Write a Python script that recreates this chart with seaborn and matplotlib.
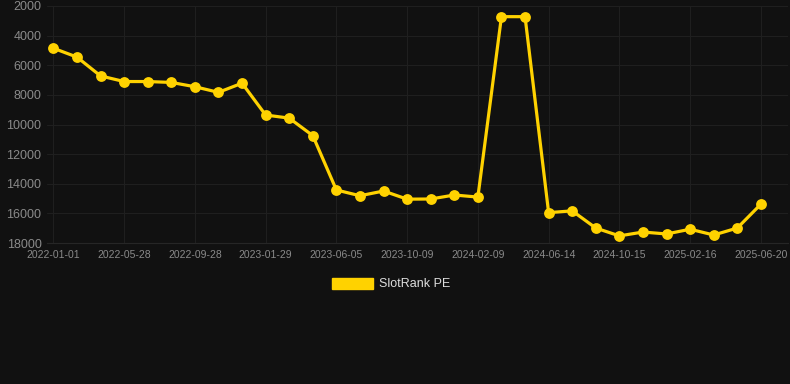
import pandas as pd
import numpy as np
import matplotlib
matplotlib.use("Agg")
import matplotlib.pyplot as plt
import matplotlib.patches as mpatches
import seaborn as sns

sns.set_style("dark", {"axes.facecolor": "#111111", "figure.facecolor": "#111111"})
plt.rcParams['font.family'] = ['Liberation Sans', 'DejaVu Sans']

# tick labels (every third observation)
tick_labels = ["2022-01-01", "2022-05-28", "2022-09-28", "2023-01-29", "2023-06-05",
               "2023-10-09", "2024-02-09", "2024-06-14", "2024-10-15", "2025-02-16",
               "2025-06-20"]

# rank values
ranks = [4850, 5450, 6720, 7100, 7100, 7160, 7450, 7830, 7210, 9360,
         9570, 10750, 14420, 14810, 14490, 15040, 15030, 14760, 14900, 2720,
         2720, 15950, 15830, 16990, 17520, 17260, 17390, 17070, 17460, 16990,
         15380]

df = pd.DataFrame({"idx": np.arange(len(ranks)), "rank": ranks})

line_color = "#FFD200"
grid_color = "#1f1f1f"
text_color = "#8a8a8a"

fig = plt.figure(figsize=(7.9, 3.84), dpi=100)
ax = fig.add_axes([47 / 790, 1 - 243 / 384, 741 / 790, 237 / 384])

sns.lineplot(data=df, x="idx", y="rank", ax=ax, color=line_color, linewidth=2.3,
             marker="o", markersize=7.8, markeredgecolor=line_color, markeredgewidth=0)

ax.set_ylim(18000, 2000)
ax.set_yticks(range(2000, 18001, 2000))
ax.set_xlim(-0.27, len(ranks) - 1 + 1.15)
ax.set_xticks(df["idx"][::3])
ax.set_xticklabels(tick_labels)

ax.grid(True, color=grid_color, linewidth=0.8)
ax.set_axisbelow(True)
for s in ["top", "right", "left"]:
    ax.spines[s].set_visible(False)
ax.spines["bottom"].set_color("#262626")

ax.tick_params(axis="y", labelsize=9, colors=text_color, length=0, pad=4)
ax.tick_params(axis="x", labelsize=7.5, colors=text_color, length=0, pad=5)
ax.set_xlabel("")
ax.set_ylabel("")

handle = mpatches.Patch(color=line_color, label="SlotRank PE")
fig.legend(handles=[handle], loc="center", bbox_to_anchor=(391 / 790, 1 - 284 / 384),
           frameon=False, fontsize=9, labelcolor="#dddddd",
           handlelength=3.3, handleheight=1.0, handletextpad=0.5)

fig.savefig("out.png", dpi=100, facecolor="#111111")
